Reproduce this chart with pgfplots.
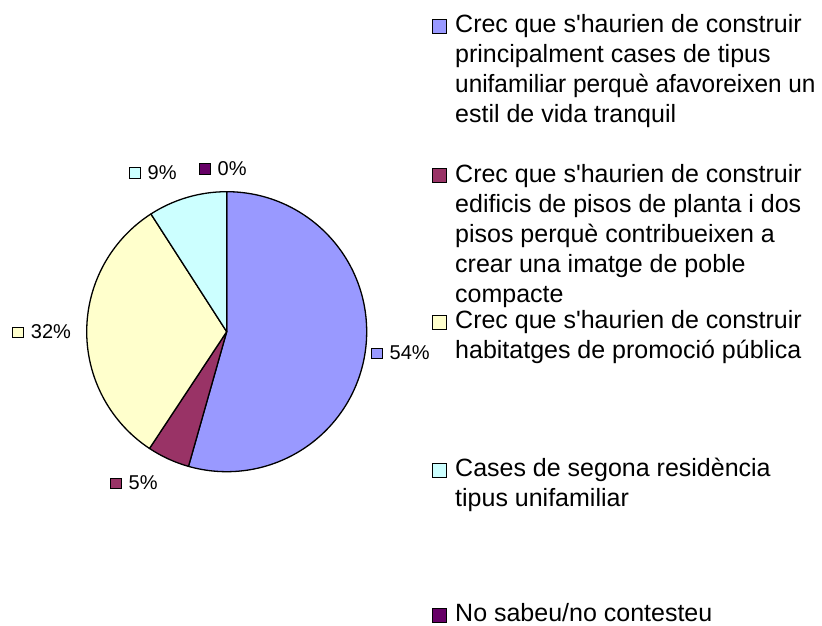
\documentclass[border=0pt]{standalone}
\usepackage{graphicx}
\usepackage{pgfplots}
\pgfplotsset{compat=1.18}
\usepackage{pgfplotstable}
\usepackage{fontspec}
\setmainfont{Liberation Sans}
\definecolor{cBlue}{HTML}{9999FF}
\definecolor{cMaroon}{HTML}{993366}
\definecolor{cYellow}{HTML}{FFFFCC}
\definecolor{cCyan}{HTML}{CCFFFF}
\definecolor{cPurple}{HTML}{660066}

\pgfplotstableread{
value color
54.4 cBlue
4.9 cMaroon
31.6 cYellow
9.1 cCyan
0.0 cPurple
}\piedata

\newcommand\sq[2]{{\setlength\fboxsep{0pt}\setlength\fboxrule{1pt}\fcolorbox{black}{#1}{\makebox[#2]{\rule{0pt}{#2}}}}}
\newcommand\pielab[4]{\node[anchor=base west,inner sep=0pt,font=\fontsize{20}{24}\selectfont] at (axis cs:#1,#2) {\raisebox{1.4pt}{\sq{#3}{9.5pt}}\hspace{7pt}#4};}
\newcommand\legentry[3]{%
  \node[anchor=base west,inner sep=0pt] at (axis cs:432,#1) {\sq{#2}{13pt}};
  \node[anchor=base west,inner sep=0pt,font=\fontsize{25}{30}\selectfont] at (axis cs:455,#1) {\parbox[t]{380pt}{\raggedright #3}};}

\begin{document}
\begin{tikzpicture}
\useasboundingbox (0,0) rectangle (822pt,626pt);
\begin{axis}[x=1pt,y=1pt,xmin=0,xmax=822,ymin=0,ymax=626,hide axis,clip=false,
  at={(0,0)},anchor=south west]
\pgfplotsextra{
  \gdef\cum{0}
  \foreach \i in {0,...,4}{
    \pgfplotstablegetelem{\i}{value}\of\piedata \let\v\pgfplotsretval
    \pgfplotstablegetelem{\i}{color}\of\piedata \let\col\pgfplotsretval
    \pgfmathsetmacro\a{90-3.6*\cum}
    \pgfmathsetmacro\b{90-3.6*(\cum+\v)}
    \pgfmathparse{\v>0}
    \ifdim\pgfmathresult pt>0pt
      \filldraw[fill=\col,draw=black,line width=1.3pt,line join=round]
        (axis cs:226.7,294.3) -- ++(\a:140pt) arc[start angle=\a,end angle=\b,radius=140pt] -- cycle;
    \fi
    \pgfmathparse{\cum+\v}\xdef\cum{\pgfmathresult}
  }
}
\pielab{129}{446.8}{cCyan}{9\%}
\pielab{199}{450.8}{cPurple}{0\%}
\pielab{12.3}{287.3}{cYellow}{32\%}
\pielab{371}{266.3}{cBlue}{54\%}
\pielab{110}{136.3}{cMaroon}{5\%}
\legentry{593.3}{cBlue}{Crec que s\textquotesingle haurien de construir\\principalment cases de tipus\\\scalebox{0.975}[1]{unifamiliar perquè afavoreixen un}\\estil de vida tranquil}
\legentry{443.5}{cMaroon}{Crec que s\textquotesingle haurien de construir\\edificis de pisos de planta i dos\\pisos perquè contribueixen a\\crear una imatge de poble\\compacte}
\legentry{297.3}{cYellow}{Crec que s\textquotesingle haurien de construir\\habitatges de promoció pública}
\legentry{149.3}{cCyan}{Cases de segona residència\\tipus unifamiliar}
\legentry{4}{cPurple}{No sabeu/no contesteu}
\end{axis}
\end{tikzpicture}
\end{document}
